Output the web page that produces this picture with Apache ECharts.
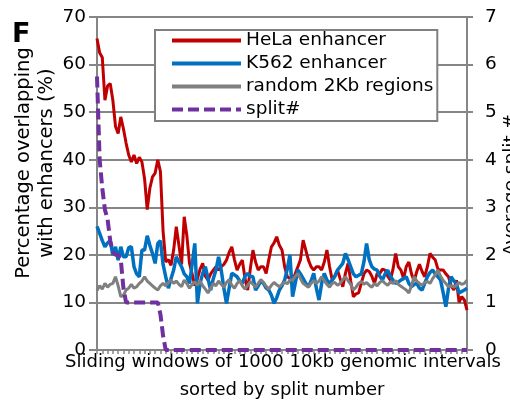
<!DOCTYPE html>
<html>
<head>
<meta charset="utf-8">
<script src="https://cdn.jsdelivr.net/npm/echarts@6/dist/echarts.min.js"></script>
<style>
html,body{margin:0;padding:0;background:#fff;}
#chart{width:510px;height:406px;}
</style>
</head>
<body>
<div id="chart"></div>
<script>
// window rank (sorted by split number)
const windows = [];
for (let i = 1; i <= 141; i++) windows.push(i);

const leftTicks = [0, 10, 20, 30, 40, 50, 60, 70];
const rightTicks = [0, 1, 2, 3, 4, 5, 6, 7];

const helaEnhancer = [
65.5,62.5,61.5,52.5,55.5,56,52.5,47,45.5,49,
46.5,43.5,41,39.5,41,39.2,40.5,39.5,36,29.5,
34,36.4,37.2,40,37.5,25,18.5,19,17.8,21,
25.9,22,18,28,24,18.2,16,13.5,15,17,
18.2,15.5,14.7,16,16.8,17.5,16.8,17.5,18,18.9,
20.5,21.7,19,16.8,18,18.9,15,12.6,17,21,
18.5,16.8,17.5,17.5,16.1,19,21.7,22.5,23.8,22,
21,17.5,15.4,15,14.5,16,17.5,19,23.1,21,
18.9,17.5,16.8,17.5,17.5,16.8,18.5,21,17.5,14.7,
15.5,16.8,15,13.3,16.1,18.2,14.5,11.2,11.8,12,
14,16,16.8,16.5,15.5,14,16.1,16.1,17,16.8,
15.5,14.7,17,20.3,17.5,16.8,15,17.5,18.5,16,
14.5,16.5,18,16.5,15.4,17.5,20.3,19.5,18.9,17,
16.8,16.8,16,15.4,13.5,12.6,14.7,10,11.2,10.5,
8.4];

const k562Enhancer = [
26,24.5,23,21.7,22.5,23,20,21.7,18.9,21.7,
19.6,19.6,21.5,21.7,17.5,16,15.4,21,21,24,
22,20.3,18.2,22.4,23,18,15.4,13,15,16.8,
19.6,18.5,17.5,16,15.4,14,18,22.4,9.8,14,
16.1,17.5,15,12.6,15,16.8,19.6,16.8,13,9.8,
13,16.1,15.8,15.4,14.5,14,15.5,16.1,15.5,15.4,
12.6,13.5,14.5,14,13,12.6,11.5,9.8,11,12.6,
13.5,14.7,17,20,11.2,14,16.8,16,15,14,
13.3,14.5,16.1,13,10.5,14,16.1,14.7,14,14.7,
15.5,16.8,17.5,18.2,20.3,19,17.5,16,15.4,15.7,
16,18.5,22.4,19,17.5,17,16.8,15.5,14.7,16,
16.8,15.5,14.7,14,14.3,14.7,15,15.4,14,13.3,
13.8,14,13,12.6,14,15.4,16.3,16.8,16,15.4,
14.7,12,9.1,13,15.4,14.5,14,12,12.3,12.6,
13];

const random2Kb = [
12.5,13.5,12.8,14,13.2,13.8,14,15.4,13.5,11.2,
11.5,12.6,13,13.8,13,13.3,14,14.5,15.4,14.5,
14,13.5,13,12.6,13.5,14,13.5,14.2,14.7,14,
14.5,13.8,13.3,14.7,14,13,13.8,14.3,13.6,14.5,
13.5,12.8,12,13,14,13.5,14.5,13.8,13.2,14.2,
14.8,13.6,13,14,14.6,13.5,12.8,13.6,14.4,13.8,
13.2,14,14.8,14.2,13.4,12.8,13.6,14.2,13.7,13.3,
13.8,14.3,13.9,14.7,14.7,15.5,16.1,15,14,13.6,
13.2,14,14.6,14,14.5,15.4,14.6,13.8,13.2,14,
14.2,13.6,14,14.8,15.4,14.6,13.8,12.6,13.2,14,
14.4,13.8,14.2,13.6,13.2,14,13.5,14.2,14.6,14,
13.6,14.3,14,14.6,13.8,13.4,13,12.6,12,13.5,
15.4,14.5,14,13.6,14.2,14.4,14,15,15.8,16.8,
15.5,14.6,14,13.3,13.5,13.2,13.6,14.2,13.8,14,
14.7];

const splitNumber = [
5.75,4.0,3.4,2.95,2.75,2.3,2.05,2.0,2.0,1.9,
1.3,1.0,1.0,1.0,1.0,1.0,1.0,1.0,1.0,1.0,
1.0,1.0,1.0,1.0,0.75,0.3,0,0,0,0,
0,0,0,0,0,0,0,0,0,0,
0,0,0,0,0,0,0,0,0,0,
0,0,0,0,0,0,0,0,0,0,
0,0,0,0,0,0,0,0,0,0,
0,0,0,0,0,0,0,0,0,0,
0,0,0,0,0,0,0,0,0,0,
0,0,0,0,0,0,0,0,0,0,
0,0,0,0,0,0,0,0,0,0,
0,0,0,0,0,0,0,0,0,0,
0,0,0,0,0,0,0,0,0,0,
0,0,0,0,0,0,0,0,0,0,
0];

const seriesNames = ['HeLa enhancer', 'K562 enhancer', 'random 2Kb regions', 'split#'];

const FONT = 'DejaVu Sans';
const FS = 18.5;
const GRAY = '#868686';

const solidIcon = 'path://M0,0L69,0L69,4L0,4Z';
const dashIcon = 'path://M0,0L11,0L11,4L0,4Z M16,0L27,0L27,4L16,4Z M32,0L43,0L43,4L32,4Z M48,0L59,0L59,4L48,4Z M64,0L69,0L69,4L64,4Z';

const chart = echarts.init(document.getElementById('chart'), null, {renderer: 'canvas'});
chart.setOption({
  animation: false,
  backgroundColor: '#fff',
  textStyle: {fontFamily: FONT},
  grid: {left: 97, right: 43, top: 17, bottom: 56, containLabel: false},
  legend: {
    data: [
      {name: seriesNames[0], icon: solidIcon},
      {name: seriesNames[1], icon: solidIcon},
      {name: seriesNames[2], icon: solidIcon},
      {name: seriesNames[3], icon: dashIcon}
    ],
    orient: 'vertical',
    left: 155,
    top: 30,
    padding: [1, 4, 2, 17],
    itemWidth: 69,
    itemHeight: 4,
    itemGap: 4,
    backgroundColor: '#fff',
    borderColor: '#808080',
    borderWidth: 2,
    borderRadius: 0,
    textStyle: {fontFamily: FONT, fontSize: FS, color: '#000', lineHeight: 18}
  },
  xAxis: {
    type: 'category',
    data: windows,
    boundaryGap: false,
    axisLine: {show: true, lineStyle: {color: GRAY, width: 2}},
    axisTick: {show: true, interval: 1, length: 4, lineStyle: {color: GRAY, width: 1.5}},
    axisLabel: {show: false},
    splitLine: {show: false}
  },
  yAxis: [
    {
      type: 'value', min: leftTicks[0], max: leftTicks[leftTicks.length - 1], interval: 10,
      axisLine: {show: true, lineStyle: {color: GRAY, width: 2}},
      axisTick: {show: true, length: 8, lineStyle: {color: GRAY, width: 2}},
      axisLabel: {margin: 11, fontFamily: FONT, fontSize: FS, color: '#000'},
      splitLine: {show: true, lineStyle: {color: GRAY, width: 2}}
    },
    {
      type: 'value', min: rightTicks[0], max: rightTicks[rightTicks.length - 1], interval: 1,
      position: 'right',
      axisLine: {show: true, lineStyle: {color: GRAY, width: 2}},
      axisTick: {show: true, length: 6, lineStyle: {color: GRAY, width: 2}},
      axisLabel: {margin: 18, fontFamily: FONT, fontSize: FS, color: '#000'},
      splitLine: {show: false}
    }
  ],
  series: [
    {name: seriesNames[0], type: 'line', data: helaEnhancer, yAxisIndex: 0, symbol: 'none',
     lineStyle: {color: '#C00000', width: 3}, itemStyle: {color: '#C00000'}},
    {name: seriesNames[1], type: 'line', data: k562Enhancer, yAxisIndex: 0, symbol: 'none',
     lineStyle: {color: '#0070C0', width: 3.5}, itemStyle: {color: '#0070C0'}},
    {name: seriesNames[2], type: 'line', data: random2Kb, yAxisIndex: 0, symbol: 'none',
     lineStyle: {color: '#7F7F7F', width: 3}, itemStyle: {color: '#7F7F7F'}},
    {name: seriesNames[3], type: 'line', data: splitNumber, yAxisIndex: 1, symbol: 'none', clip: false,
     lineStyle: {color: '#7030A0', width: 4, type: [11, 5], cap: 'butt'}, itemStyle: {color: '#7030A0'}}
  ],
  graphic: [
    {type: 'text', x: 12, y: 35, style: {text: 'F', fontFamily: FONT, fontWeight: 'bold', fontSize: 27, fill: '#000', align: 'left', verticalAlign: 'middle'}},
    {type: 'text', x: 24, y: 163, rotation: Math.PI / 2, style: {text: 'Percentage overlapping', fontFamily: FONT, fontSize: 19.5, fill: '#000', align: 'center', verticalAlign: 'middle'}},
    {type: 'text', x: 47, y: 163, rotation: Math.PI / 2, style: {text: 'with enhancers (%)', fontFamily: FONT, fontSize: 19.5, fill: '#000', align: 'center', verticalAlign: 'middle'}},
    {type: 'text', x: 511, y: 185, rotation: Math.PI / 2, style: {text: 'Average split #', fontFamily: FONT, fontSize: FS, fill: '#000', align: 'center', verticalAlign: 'middle'}},
    {type: 'text', x: 283, y: 362, style: {text: 'Sliding windows of 1000 10kb genomic intervals', fontFamily: FONT, fontSize: 18, fill: '#000', align: 'center', verticalAlign: 'middle'}},
    {type: 'text', x: 282, y: 390, style: {text: 'sorted by split number', fontFamily: FONT, fontSize: 18, fill: '#000', align: 'center', verticalAlign: 'middle'}}
  ]
});
</script>
</body>
</html>
